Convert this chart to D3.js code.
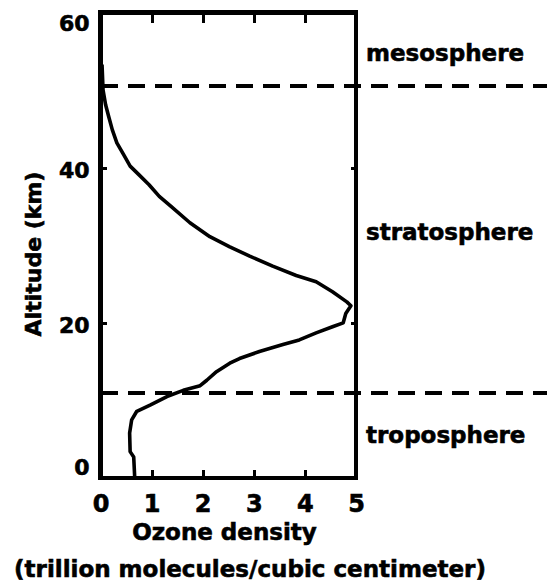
<!DOCTYPE html>
<html>
<head>
<meta charset="utf-8">
<script src="https://cdn.jsdelivr.net/npm/d3@7"></script>
<style>
  html, body { margin: 0; padding: 0; background: #fff; }
  svg { display: block; }
  text { font-family: "DejaVu Sans", sans-serif; font-weight: bold; fill: #000; stroke: #000; stroke-width: 0.6px; }
</style>
</head>
<body>
<svg id="chart" width="547" height="585"></svg>
<script>
// ---- data ----
const altitudeKm = [0, 2.7, 3.4, 5.8, 7.5, 8.6, 9.4, 10.5, 11.3, 11.9, 12.6, 13.7, 14.8, 15.4, 16.3, 17.2, 17.8, 18.7, 19.5, 20.0, 21.2, 22.2, 22.7, 24.0, 25.3, 26.1, 27.3, 28.6, 29.8, 31.1, 32.9, 35.0, 36.3, 37.8, 39.1, 40.2, 41.7, 43.2, 44.9, 46.6, 48.1, 50.0, 53.3];
const ozoneDensity = [0.67, 0.65, 0.58, 0.57, 0.61, 0.71, 0.97, 1.30, 1.62, 1.95, 2.08, 2.27, 2.53, 2.72, 3.11, 3.57, 3.89, 4.22, 4.54, 4.75, 4.80, 4.90, 4.82, 4.54, 4.22, 3.83, 3.37, 2.92, 2.53, 2.14, 1.75, 1.38, 1.15, 0.95, 0.75, 0.58, 0.45, 0.32, 0.23, 0.16, 0.10, 0.05, 0.03];
const xTicks = [0, 1, 2, 3, 4, 5];
const yTicks = [0, 20, 40, 60];
const layerBoundaries = [11, 50.5];
const layerNames = ["troposphere", "stratosphere", "mesosphere"];
const xTitle = "Ozone density";
const xSubTitle = "(trillion molecules/cubic centimeter)";
const yTitle = "Altitude (km)";

// ---- layout ----
const W = 547, H = 585;
const svg = d3.select("#chart");
const x = d3.scaleLinear().domain([0, 5]).range([100.5, 356]);
const y = d3.scaleLinear().domain([0, 60]).range([478, 12.5]);

// dashed layer boundaries
svg.append("g").selectAll("line").data(layerBoundaries).join("line")
  .attr("x1", x(0)).attr("x2", W)
  .attr("y1", d => Math.round(y(d))).attr("y2", d => Math.round(y(d)))
  .attr("stroke", "#000").attr("stroke-width", 4.5)
  .attr("stroke-dasharray", "17,10")
  .attr("shape-rendering", "crispEdges");

// curve
const pts = altitudeKm.map((a, i) => [ozoneDensity[i], a]);
svg.append("path")
  .datum(pts)
  .attr("fill", "none").attr("stroke", "#000").attr("stroke-width", 3.6)
  .attr("stroke-linejoin", "round").attr("stroke-linecap", "butt")
  .attr("d", d3.line().x(d => x(d[0])).y(d => y(d[1])));

// axes (inward ticks)
const gB = svg.append("g").attr("transform", `translate(0,${y(0)})`)
  .call(d3.axisBottom(x).tickValues(xTicks).tickSize(-8).tickPadding(17).tickFormat(d3.format("d")));
const gT = svg.append("g").attr("transform", `translate(0,${y(60)})`)
  .call(d3.axisTop(x).tickValues(xTicks.slice(1, -1)).tickSize(-10).tickFormat(""));
const gL = svg.append("g").attr("transform", `translate(${x(0)},0)`)
  .call(d3.axisLeft(y).tickValues(yTicks).tickSize(-6).tickPadding(11).tickFormat(d3.format("d")));
const gR = svg.append("g").attr("transform", `translate(${x(5)},0)`)
  .call(d3.axisRight(y).tickValues(yTicks.slice(1, -1)).tickSize(-5).tickFormat(""));

[gB, gT, gL, gR].forEach(g => {
  g.select(".domain").remove();
  g.selectAll(".tick line").attr("stroke", "#000").attr("stroke-width", 3).attr("shape-rendering", "crispEdges");
  g.selectAll(".tick text").style("font-family", "'DejaVu Sans', sans-serif").style("font-weight", "bold")
    .attr("fill", "#000").attr("stroke", "#000").attr("stroke-width", 0.6);
});
gB.selectAll(".tick text").style("font-size", "24px");
gL.selectAll(".tick text").style("font-size", "22px")
  .attr("dy", d => d === 60 ? "0.8em" : d === 0 ? "-0.14em" : "0.45em");

// frame
svg.append("rect")
  .attr("x", x(0)).attr("y", y(60))
  .attr("width", x(5) - x(0)).attr("height", y(0) - y(60))
  .attr("fill", "none").attr("stroke", "#000").attr("stroke-width", 4.5)
  .attr("shape-rendering", "crispEdges");

// layer labels
const labelAlt = [4.5, 30.7, 53.8];
svg.append("g").selectAll("text").data(layerNames).join("text")
  .attr("x", x(5) + 10).attr("y", (d, i) => y(labelAlt[i]))
  .style("font-size", "23px")
  .text(d => d);

// axis titles
svg.append("text").attr("x", 224.5).attr("y", 540)
  .attr("text-anchor", "middle").style("font-size", "23px").text(xTitle);
svg.append("text").attr("x", 250).attr("y", 577)
  .attr("text-anchor", "middle").style("font-size", "23px").text(xSubTitle);
svg.append("text").attr("transform", "translate(41,254) rotate(-90)")
  .attr("text-anchor", "middle").style("font-size", "22px").text(yTitle);
</script>
</body>
</html>
